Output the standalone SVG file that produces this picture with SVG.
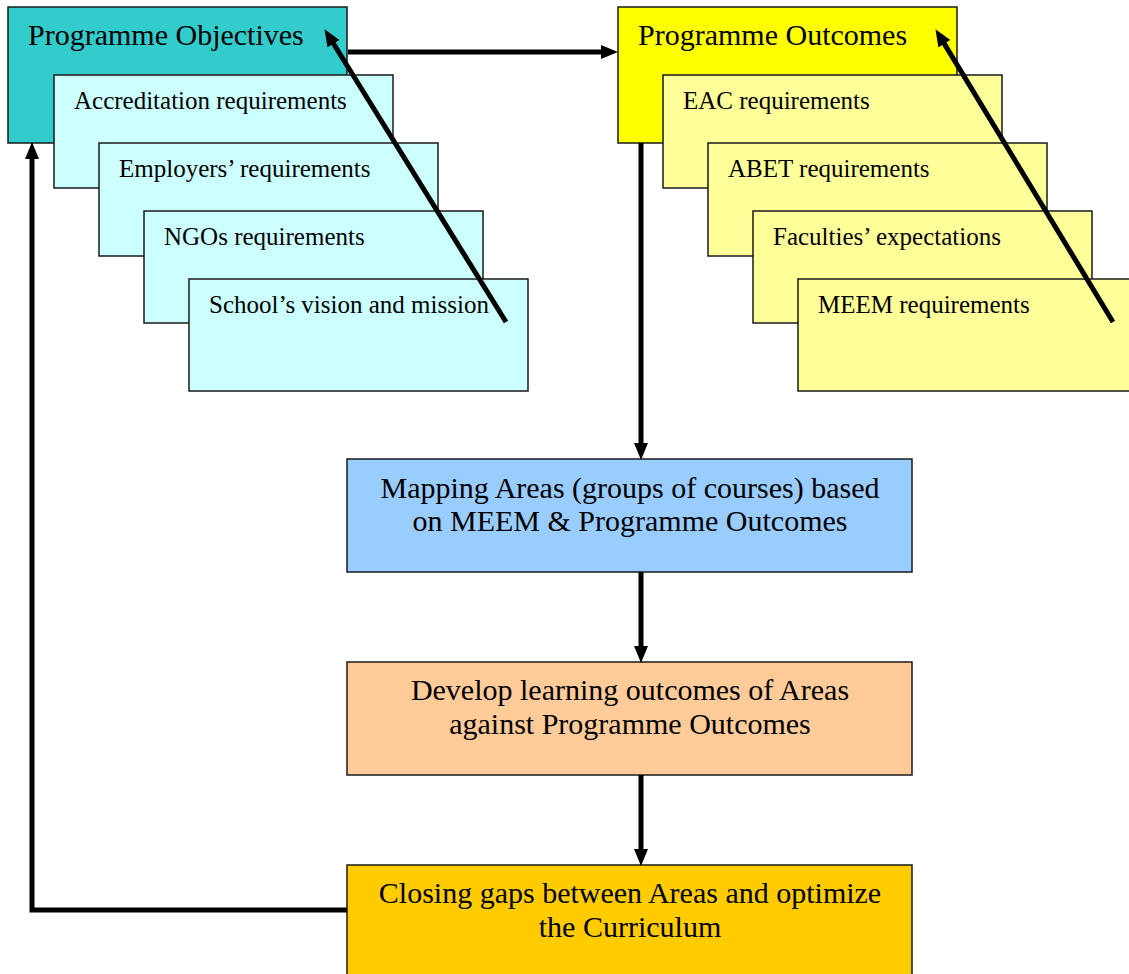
<svg xmlns="http://www.w3.org/2000/svg" width="1129" height="974" viewBox="0 0 1129 974">
<defs>
<style>
.box{stroke:#1a1a1a;stroke-width:1.5}
.t{font-family:"Liberation Serif","Times New Roman",serif;fill:#000}
.big{font-size:30px}
.sm{font-size:25px}
.c{text-anchor:middle}
.conn{fill:none;stroke:#000;stroke-width:5;marker-end:url(#ah)}
</style>
<marker id="ah" markerUnits="userSpaceOnUse" markerWidth="18" markerHeight="16" refX="6" refY="7" orient="auto" overflow="visible">
<path d="M0,0 L17,7 L0,14 Z" fill="#000"/>
</marker>
</defs>
<rect width="1129" height="974" fill="#fff"/>

<g id="objectives">
<rect class="box" x="8" y="7" width="339" height="136" fill="#33CCCC"/>
<text class="t big" x="28" y="45">Programme Objectives</text>
</g>
<g id="accreditation">
<rect class="box" x="54" y="75" width="339" height="113" fill="#CCFFFF"/>
<text class="t sm" x="74" y="109">Accreditation requirements</text>
</g>
<g id="employers">
<rect class="box" x="99" y="143" width="339" height="113" fill="#CCFFFF"/>
<text class="t sm" x="119" y="177">Employers’ requirements</text>
</g>
<g id="ngos">
<rect class="box" x="144" y="211" width="339" height="112" fill="#CCFFFF"/>
<text class="t sm" x="164" y="245">NGOs requirements</text>
</g>
<g id="school">
<rect class="box" x="189" y="279" width="339" height="112" fill="#CCFFFF"/>
<text class="t sm" x="209" y="313">School’s vision and mission</text>
</g>

<g id="outcomes">
<rect class="box" x="618" y="7" width="339" height="136" fill="#FFFF00"/>
<text class="t big" x="638" y="45">Programme Outcomes</text>
</g>
<g id="eac">
<rect class="box" x="663" y="75" width="339" height="113" fill="#FFFF99"/>
<text class="t sm" x="683" y="109">EAC requirements</text>
</g>
<g id="abet">
<rect class="box" x="708" y="143" width="339" height="113" fill="#FFFF99"/>
<text class="t sm" x="728" y="177">ABET requirements</text>
</g>
<g id="faculties">
<rect class="box" x="753" y="211" width="339" height="112" fill="#FFFF99"/>
<text class="t sm" x="773" y="245">Faculties’ expectations</text>
</g>
<g id="meem">
<rect class="box" x="798" y="279" width="345" height="112" fill="#FFFF99"/>
<text class="t sm" x="818" y="313">MEEM requirements</text>
</g>

<g id="mapping">
<rect class="box" x="347" y="459" width="565" height="113" fill="#99CCFF"/>
<text class="t big c" x="630" y="498">Mapping Areas (groups of courses) based</text>
<text class="t big c" x="630" y="531">on MEEM &amp; Programme Outcomes</text>
</g>
<g id="develop">
<rect class="box" x="347" y="662" width="565" height="113" fill="#FFCC99"/>
<text class="t big c" x="630" y="700">Develop learning outcomes of Areas</text>
<text class="t big c" x="630" y="734">against Programme Outcomes</text>
</g>
<g id="closing">
<rect class="box" x="347" y="865" width="565" height="120" fill="#FFCC00"/>
<text class="t big c" x="630" y="903">Closing gaps between Areas and optimize</text>
<text class="t big c" x="630" y="937">the Curriculum</text>
</g>

<g id="connectors">
<path class="conn" d="M348,52 H607"/>
<path class="conn" d="M506,322 L330.3,38.5"/>
<path class="conn" d="M1113,322 L941.2,38.6"/>
<path class="conn" d="M641,143 V449"/>
<path class="conn" d="M641,572 V652"/>
<path class="conn" d="M641,775 V855"/>
<path class="conn" d="M347,910 H32 V153"/>
</g>
</svg>
